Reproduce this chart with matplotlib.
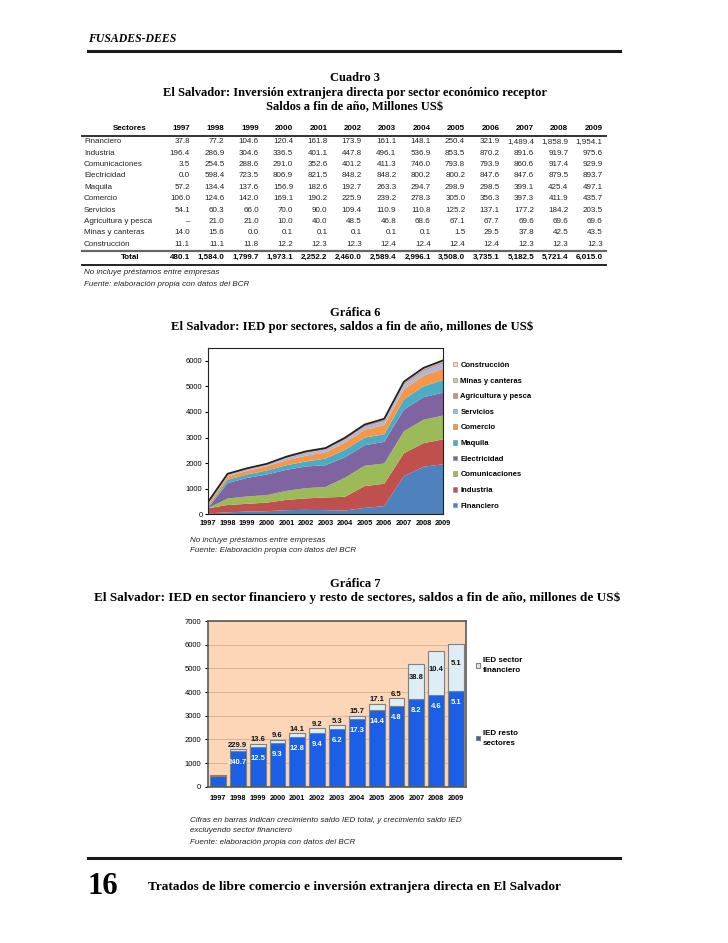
import numpy as np
import matplotlib
matplotlib.use("Agg")
import matplotlib.pyplot as plt
from matplotlib.lines import Line2D
from matplotlib.patches import Patch

W, H = 728, 943

SANS = "Liberation Sans"
SERIF = "Liberation Serif"

years = [1997, 1998, 1999, 2000, 2001, 2002, 2003, 2004, 2005, 2006, 2007, 2008, 2009]

sectores = ["Financiero", "Industria", "Comunicaciones", "Electricidad", "Maquila",
            "Comercio", "Servicios", "Agricultura y pesca", "Minas y canteras", "Construcción"]

financiero = [37.8, 77.2, 104.6, 120.4, 161.8, 173.9, 161.1, 148.1, 250.4, 321.9, 1489.4, 1858.9, 1954.1]
industria = [196.4, 286.9, 304.6, 336.5, 401.1, 447.8, 496.1, 536.9, 853.5, 870.2, 891.6, 919.7, 975.6]
comunicaciones = [3.5, 254.5, 288.6, 291.0, 352.6, 401.2, 411.3, 746.0, 793.8, 793.9, 860.6, 917.4, 929.9]
electricidad = [0.0, 598.4, 723.5, 806.9, 821.5, 848.2, 848.2, 800.2, 800.2, 847.6, 847.6, 879.5, 893.7]
maquila = [57.2, 134.4, 137.6, 156.9, 182.6, 192.7, 263.3, 294.7, 298.9, 298.5, 399.1, 425.4, 497.1]
comercio = [106.0, 124.6, 142.0, 169.1, 190.2, 225.9, 239.2, 278.3, 305.0, 356.3, 397.3, 411.9, 435.7]
servicios = [54.1, 60.3, 66.0, 70.0, 90.0, 109.4, 110.9, 110.8, 125.2, 137.1, 177.2, 184.2, 203.5]
agricultura = [None, 21.0, 21.0, 10.0, 40.0, 48.5, 46.8, 68.6, 67.1, 67.7, 69.6, 69.6, 69.6]
minas = [14.0, 15.6, 0.0, 0.1, 0.1, 0.1, 0.1, 0.1, 1.5, 29.5, 37.8, 42.5, 43.5]
construccion = [11.1, 11.1, 11.8, 12.2, 12.3, 12.3, 12.4, 12.4, 12.4, 12.4, 12.3, 12.3, 12.3]
total = [480.1, 1584.0, 1799.7, 1973.1, 2252.2, 2460.0, 2589.4, 2996.1, 3508.0, 3735.1, 5182.5, 5721.4, 6015.0]

# growth labels of grafica 7
crec_total = [None, 229.9, 13.6, 9.6, 14.1, 9.2, 5.3, 15.7, 17.1, 6.5, 38.8, 10.4, 5.1]
crec_resto = [None, 240.7, 12.5, 9.3, 12.8, 9.4, 6.2, 17.3, 14.4, 4.8, 8.2, 4.6, 5.1]

series = [financiero, industria, comunicaciones, electricidad, maquila,
          comercio, servicios, agricultura, minas, construccion]
colors = ["#4F81BD", "#C0504D", "#9BBB59", "#8064A2", "#4BACC6",
          "#F79646", "#A9BAD9", "#D48A89", "#BFD19C", "#FAD7B8"]


def fx(x):
    return x / W


def fy(y):
    return 1 - y / H


def txt(x, y, s, **kw):
    kw.setdefault("va", "center")
    fig.text(fx(x), fy(y), s, **kw)


def hline(x0, x1, y, lw, color="#1a1a1a"):
    fig.add_artist(Line2D([fx(x0), fx(x1)], [fy(y), fy(y)], lw=lw, color=color))


def fmt(v):
    if v is None:
        return "–"
    return f"{v:,.1f}"


fig = plt.figure(figsize=(W / 100, H / 100), dpi=100)

# page header / footer
txt(88, 39, "FUSADES-DEES", family=SERIF, weight="bold", style="italic", fontsize=8.5)
hline(88, 620, 51, 2.2)
hline(88, 620, 858, 2.2)
txt(88, 887, "16", family=SERIF, weight="bold", fontsize=22)
txt(148, 887, "Tratados de libre comercio e inversión extranjera directa en El Salvador",
    family=SERIF, weight="bold", fontsize=9.6)

# ---- Cuadro 3 ----
title_kw = dict(family=SERIF, weight="bold", ha="center")
txt(355, 78, "Cuadro 3", fontsize=9, **title_kw)
txt(355, 93, "El Salvador: Inversión extranjera directa por sector económico receptor", fontsize=9, **title_kw)
txt(355, 107, "Saldos a fin de año, Millones US$", fontsize=9, **title_kw)

col_right = [190 + 34.4 * i for i in range(len(years))]
lab_x = 84
row_y0, row_dy = 141.7, 11.4

txt(130, 129, "Sectores", family=SANS, weight="bold", fontsize=5.8, ha="center")
for xr, yr in zip(col_right, years):
    txt(xr, 129, str(yr), family=SANS, weight="bold", fontsize=5.8, ha="right")
hline(82, 606, 136, 1.4, "#333333")

for i, (name, vals) in enumerate(zip(sectores, series)):
    y = row_y0 + i * row_dy
    txt(lab_x, y, name, family=SANS, fontsize=5.8, color="#222222")
    for xr, v in zip(col_right, vals):
        txt(xr, y, fmt(v), family=SANS, fontsize=5.8, ha="right", color="#222222")

hline(82, 606, 250.5, 1.6, "#666666")
txt(130, 257.5, "Total", family=SANS, weight="bold", fontsize=5.8, ha="center")
for xr, v in zip(col_right, total):
    txt(xr, 257.5, fmt(v), family=SANS, weight="bold", fontsize=5.8, ha="right")
hline(82, 606, 264.5, 1.4, "#222222")

note_kw = dict(family=SANS, style="italic", fontsize=5.8, color="#222222")
txt(lab_x, 273, "No incluye préstamos entre empresas", **note_kw)
txt(lab_x, 284, "Fuente: elaboración propia con datos del BCR", **note_kw)

# ---- Grafica 6 ----
txt(355, 313, "Gráfica 6", fontsize=9, **title_kw)
txt(352, 327, "El Salvador: IED por sectores, saldos a fin de año, millones de US$", fontsize=9.2, **title_kw)

ax1 = fig.add_axes([fx(208), fy(514.3), (443 - 208) / W, (514.3 - 348) / H])
x = np.arange(len(years))
ys = [[0 if v is None else v for v in s] for s in series]
ax1.stackplot(x, ys, colors=colors, labels=sectores, lw=0)
ax1.plot(x, np.sum(ys, axis=0), color="#222222", lw=1.3)
ax1.set_xlim(0, len(years) - 1)
ax1.set_ylim(0, 6500)
ax1.set_yticks(range(0, 7000, 1000))
ax1.set_xticks(x)
ax1.set_xticklabels(years, fontsize=5.3, weight="bold", family=SANS)
ax1.tick_params(axis="y", labelsize=5.5, length=2, pad=2)
ax1.tick_params(axis="x", length=0, pad=4)
for lbl in ax1.get_yticklabels():
    lbl.set_family(SANS)
for sp in ax1.spines.values():
    sp.set_linewidth(0.8)
    sp.set_color("#222222")

handles = [Patch(facecolor=c, edgecolor="#888888", lw=0.4) for c in colors][::-1]
leg = ax1.legend(handles, sectores[::-1], loc="upper left", bbox_to_anchor=(1.03, 0.935),
                 frameon=False, handlelength=0.55, handleheight=0.55, handletextpad=0.4,
                 labelspacing=1.13, borderaxespad=0,
                 prop=dict(family=SANS, weight="bold", size=5.5))

txt(190, 540, "No incluye préstamos entre empresas", **note_kw)
txt(190, 551, "Fuente: Elaboración propia con datos del BCR", **note_kw)

# ---- Grafica 7 ----
txt(355, 584, "Gráfica 7", fontsize=9, **title_kw)
txt(357, 598, "El Salvador: IED en sector financiero y resto de sectores, saldos a fin de año, millones de US$",
    fontsize=9.5, **title_kw)

resto = np.array(total) - np.array(financiero)
ax2 = fig.add_axes([fx(208), fy(786.7), (466 - 208) / W, (786.7 - 621) / H])
ax2.set_facecolor("#FCD6B6")
ax2.set_axisbelow(True)
ax2.yaxis.grid(True, color="#C9A98C", lw=0.5)
b1 = ax2.bar(x, resto, width=0.8, color="#1A5FE6", edgecolor="#808080", lw=0.8)
b2 = ax2.bar(x, financiero, bottom=resto, width=0.8, color="#DDEEF6", edgecolor="#808080", lw=0.8)
ax2.set_xlim(-0.5, len(years) - 0.5)
ax2.set_ylim(0, 7000)
ax2.set_yticks(range(0, 8000, 1000))
ax2.set_xticks(x)
ax2.set_xticklabels(years, fontsize=5.3, weight="bold", family=SANS)
ax2.tick_params(axis="y", labelsize=5.5, length=2, pad=3)
ax2.tick_params(axis="x", length=0, pad=6)
for lbl in ax2.get_yticklabels():
    lbl.set_family(SANS)
for sp in ax2.spines.values():
    sp.set_linewidth(1.2)
    sp.set_color("#5a5a5a")

lab_kw = dict(ha="center", fontsize=5.5, weight="bold", family=SANS, textcoords="offset points")
for i in range(len(years)):
    if crec_total[i] is not None:
        if financiero[i] > 1000:
            ax2.annotate(f"{crec_total[i]:.1f}", (x[i], resto[i] + financiero[i] / 2),
                         xytext=(0, 3), va="center", color="#111111", **lab_kw)
        else:
            ax2.annotate(f"{crec_total[i]:.1f}", (x[i], total[i]),
                         xytext=(0, 0.5), va="bottom", color="#111111", **lab_kw)
    if crec_resto[i] is not None:
        ax2.annotate(f"{crec_resto[i]:.1f}", (x[i], resto[i]),
                     xytext=(0, -8.3), va="center", color="white", **lab_kw)

leg_kw = dict(frameon=False, handlelength=0.55, handleheight=0.55, handletextpad=0.35,
              borderaxespad=0, prop=dict(family=SANS, weight="bold", size=5.8))
l1 = ax2.legend([b2], ["IED sector\nfinanciero"], loc="upper left",
                bbox_to_anchor=(1.025, 0.80), **leg_kw)
for t in l1.get_texts():
    t.set_linespacing(1.6)
ax2.add_artist(l1)
l2 = ax2.legend([b1], ["IED resto\nsectores"], loc="upper left",
                bbox_to_anchor=(1.025, 0.36), **leg_kw)
for t in l2.get_texts():
    t.set_linespacing(1.45)

txt(190, 820, "Cifras en barras indican crecimiento saldo IED total, y crecimiento saldo IED", **note_kw)
txt(190, 831, "excluyendo sector financiero", **note_kw)
txt(190, 842, "Fuente: elaboración propia con datos del BCR", **note_kw)

fig.savefig("out.png", dpi=100)
